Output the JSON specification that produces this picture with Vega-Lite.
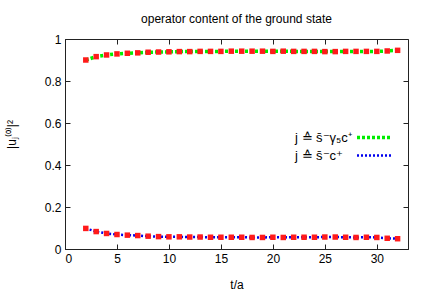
{
  "$schema": "https://vega.github.io/schema/vega-lite/v6.json",
  "width": 343,
  "height": 210,
  "autosize": "none",
  "padding": {"left": 65, "top": 39, "right": 24, "bottom": 54},
  "config": {
    "font": "Liberation Sans",
    "view": {"stroke": "#222", "strokeWidth": 1},
    "axis": {"grid": false, "domainColor": "#222", "tickColor": "#222", "tickSize": -5, "labelFontSize": 12, "labelColor": "#000", "titleFontSize": 12, "titleFontWeight": "normal", "titleColor": "#000"},
    "title": {"fontSize": 12, "fontWeight": "normal", "color": "#000"}
  },
  "title": {"text": "operator content of the ground state", "offset": 7},
  "data": {"values": [
    {"t": 2, "series": "g", "v": 0.900}, {"t": 3, "series": "g", "v": 0.916}, {"t": 4, "series": "g", "v": 0.924}, {"t": 5, "series": "g", "v": 0.929}, {"t": 6, "series": "g", "v": 0.932}, {"t": 7, "series": "g", "v": 0.934}, {"t": 8, "series": "g", "v": 0.937}, {"t": 9, "series": "g", "v": 0.938}, {"t": 10, "series": "g", "v": 0.939}, {"t": 11, "series": "g", "v": 0.940}, {"t": 12, "series": "g", "v": 0.940}, {"t": 13, "series": "g", "v": 0.941}, {"t": 14, "series": "g", "v": 0.941}, {"t": 15, "series": "g", "v": 0.941}, {"t": 16, "series": "g", "v": 0.942}, {"t": 17, "series": "g", "v": 0.942}, {"t": 18, "series": "g", "v": 0.942}, {"t": 19, "series": "g", "v": 0.942}, {"t": 20, "series": "g", "v": 0.941}, {"t": 21, "series": "g", "v": 0.942}, {"t": 22, "series": "g", "v": 0.941}, {"t": 23, "series": "g", "v": 0.941}, {"t": 24, "series": "g", "v": 0.941}, {"t": 25, "series": "g", "v": 0.940}, {"t": 26, "series": "g", "v": 0.940}, {"t": 27, "series": "g", "v": 0.941}, {"t": 28, "series": "g", "v": 0.941}, {"t": 29, "series": "g", "v": 0.941}, {"t": 30, "series": "g", "v": 0.941}, {"t": 31, "series": "g", "v": 0.943}, {"t": 32, "series": "g", "v": 0.946},
    {"t": 2, "series": "b", "v": 0.098}, {"t": 3, "series": "b", "v": 0.083}, {"t": 4, "series": "b", "v": 0.074}, {"t": 5, "series": "b", "v": 0.069}, {"t": 6, "series": "b", "v": 0.066}, {"t": 7, "series": "b", "v": 0.064}, {"t": 8, "series": "b", "v": 0.061}, {"t": 9, "series": "b", "v": 0.059}, {"t": 10, "series": "b", "v": 0.058}, {"t": 11, "series": "b", "v": 0.058}, {"t": 12, "series": "b", "v": 0.057}, {"t": 13, "series": "b", "v": 0.057}, {"t": 14, "series": "b", "v": 0.056}, {"t": 15, "series": "b", "v": 0.056}, {"t": 16, "series": "b", "v": 0.056}, {"t": 17, "series": "b", "v": 0.056}, {"t": 18, "series": "b", "v": 0.055}, {"t": 19, "series": "b", "v": 0.055}, {"t": 20, "series": "b", "v": 0.056}, {"t": 21, "series": "b", "v": 0.055}, {"t": 22, "series": "b", "v": 0.056}, {"t": 23, "series": "b", "v": 0.056}, {"t": 24, "series": "b", "v": 0.056}, {"t": 25, "series": "b", "v": 0.057}, {"t": 26, "series": "b", "v": 0.057}, {"t": 27, "series": "b", "v": 0.056}, {"t": 28, "series": "b", "v": 0.055}, {"t": 29, "series": "b", "v": 0.056}, {"t": 30, "series": "b", "v": 0.055}, {"t": 31, "series": "b", "v": 0.051}, {"t": 32, "series": "b", "v": 0.049}
  ]},
  "layer": [
    {
      "mark": {"type": "line", "clip": true},
      "encoding": {
        "x": {"field": "t", "type": "quantitative", "scale": {"domain": [0, 33], "nice": false}, "axis": {"title": "t/a", "values": [0, 5, 10, 15, 20, 25, 30], "labelPadding": 9, "titlePadding": 15}},
        "y": {"field": "v", "type": "quantitative", "scale": {"domain": [0, 1], "nice": false}, "axis": {"title": "|uⱼ⁽⁰⁾|²", "values": [0, 0.2, 0.4, 0.6, 0.8, 1], "format": "~g", "labelPadding": 9, "titlePadding": 26, "titleY": 95}},
        "color": {"field": "series", "type": "nominal", "scale": {"domain": ["g", "b"], "range": ["#00ee00", "#0000ee"]}, "legend": {"title": null, "orient": "none", "legendX": 303, "legendY": 92, "symbolType": "M-5,0H5", "symbolSize": 49, "labelAlign": "left", "labelOffset": -86, "labelFontSize": 13, "rowPadding": 4, "labelExpr": "datum.value == 'g' ? 'j ≙ s̄⁻γ₅c⁺' : 'j ≙ s̄⁻c⁺'"}},
        "strokeWidth": {"field": "series", "type": "nominal", "scale": {"domain": ["g", "b"], "range": [3.5, 2.5]}, "legend": null},
        "strokeDash": {"field": "series", "type": "nominal", "scale": {"domain": ["g", "b"], "range": [[3, 2], [2, 2]]}, "legend": null}
      }
    },
    {
      "mark": {"type": "square", "color": "#ff1a1a", "opacity": 1, "size": 30},
      "encoding": {
        "x": {"field": "t", "type": "quantitative", "axis": {"orient": "top", "labels": false, "title": null, "domain": false, "values": [0, 5, 10, 15, 20, 25, 30]}},
        "y": {"field": "v", "type": "quantitative", "axis": {"orient": "right", "labels": false, "title": null, "domain": false, "values": [0, 0.2, 0.4, 0.6, 0.8, 1]}}
      }
    }
  ],
  "resolve": {"axis": {"x": "independent", "y": "independent"}}
}
